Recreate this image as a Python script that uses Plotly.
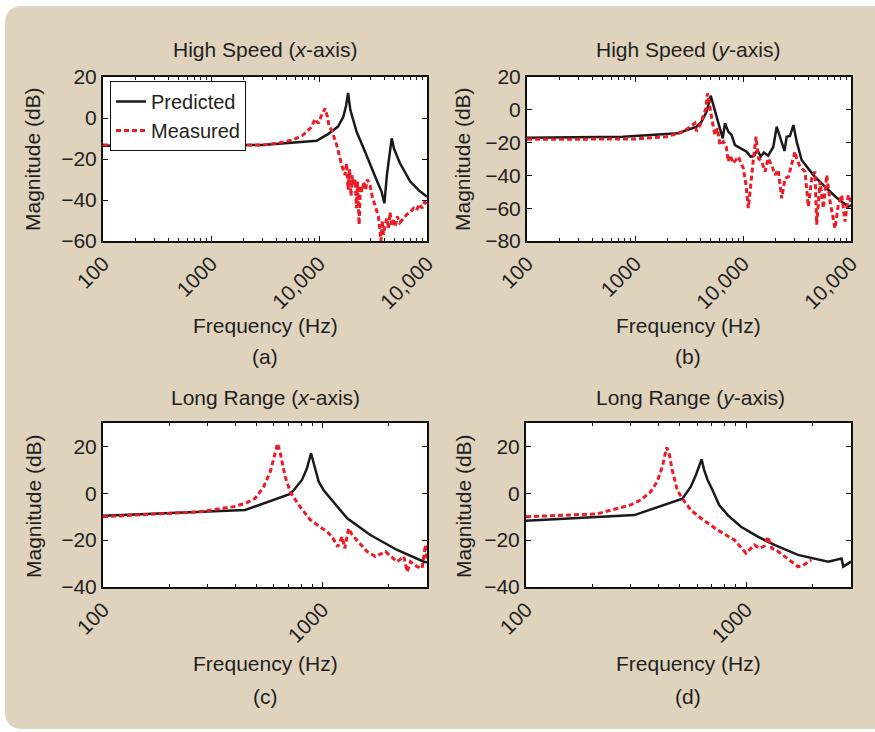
import plotly.graph_objects as go

# ---------------- data ----------------
# (a) High Speed, x-axis
freq_a_pred = [100, 1000, 3000, 9500, 12000, 15000, 16800, 17800, 18600, 19500, 20800, 22300, 26000,
               29700, 34000, 38000, 40300, 42500, 45000, 47100, 49500, 56200, 70000, 85000, 100000]
db_a_pred = [-13.5, -13.5, -13.2, -11.1, -8.0, -4.2, 0.6, 6.0, 12.2, 4.0, -1.0, -6.7, -15.0,
             -22.9, -30.0, -36.0, -41.6, -28.0, -17.0, -9.9, -15.0, -22.1, -31.0, -35.5, -38.4]
freq_a_meas = [100, 1000, 3000, 4090, 5750, 7100, 8500, 9180, 9860, 10600, 11370, 12000, 12400, 13100,
               14600, 16200, 17400, 18000, 18600, 19200, 19800, 20400, 21000, 21600, 22200, 22800,
               23500, 24200, 25000, 26000, 27000, 28000, 29700, 31000, 33000, 35500, 36700, 37500,
               38500, 39500, 41000, 42500, 44000, 45500, 47000, 49000, 51000, 53000, 56000, 60000,
               65000, 70000, 75000, 80000, 85000, 90000, 95000, 100000]
db_a_meas = [-13.2, -13.4, -13.2, -12.3, -10.7, -8.3, -4.5, -0.5, -2.6, 1.5, 4.7, 0.5, -4.2, -5.9,
             -13.2, -22.9, -27.8, -22.0, -35.0, -25.0, -38.0, -28.0, -33.0, -30.0, -44.0, -31.0,
             -52.0, -33.0, -36.0, -31.0, -35.0, -30.0, -33.0, -38.0, -43.0, -48.0, -55.0, -60.0,
             -50.0, -57.0, -52.0, -49.0, -54.0, -46.0, -52.0, -50.0, -53.0, -48.0, -51.0, -49.0,
             -47.0, -46.0, -44.0, -45.0, -42.0, -44.0, -41.0, -42.0]

# (b) High Speed, y-axis
freq_b_pred = [100, 774, 2500, 3720, 4140, 4610, 5020, 5500, 6490, 6810, 7310, 7850, 8430, 10800,
               11800, 12600, 13600, 14600, 15600, 17100, 19100, 20500, 22000, 24200, 25400, 27200,
               29300, 31400, 34900, 44800, 59500, 73700, 94400, 100000]
db_b_pred = [-17.0, -16.4, -14.3, -10.3, -7.2, -1.1, 8.6, -1.1, -17.4, -8.2, -13.3, -15.4, -21.5, -25.5,
             -28.6, -28.2, -24.5, -28.6, -26.0, -28.0, -22.5, -10.3, -16.4, -25.1, -16.4, -16.0,
             -9.3, -19.4, -30.6, -39.8, -47.9, -53.6, -59.1, -58.0]
freq_b_meas = [100, 1000, 1950, 2800, 3590, 3700, 4000, 4540, 4680, 4850, 5130, 5500, 5800, 6120,
               6580, 7000, 7310, 7590, 8130, 9060, 10070, 10670, 11200, 12000, 12500, 13200, 13900,
               14900, 16000, 17100, 18400, 19800, 21200, 22800, 24500, 26300, 28200, 30300, 31400,
               33700, 37500, 40300, 43300, 46400, 48100, 51700, 55500, 59600, 64000, 71100, 76300,
               82000, 88000, 94400, 100000]
db_b_meas = [-18.0, -17.8, -16.4, -13.4, -8.2, -13.0, -9.3, 0.9, 10.0, 5.0, -5.2, -15.4, -11.3, -21.5,
             -19.4, -22.5, -31.6, -27.6, -32.6, -28.6, -35.7, -45.9, -60.0, -37.7, -29.6, -16.4, -29.6,
             -31.6, -37.7, -29.6, -33.7, -39.8, -36.7, -54.0, -41.8, -40.8, -33.7, -25.5, -29.6,
             -34.7, -37.7, -59.0, -41.8, -37.7, -70.0, -43.8, -60.0, -39.8, -56.0, -72.3, -58.0,
             -52.0, -68.2, -52.0, -56.0]

# (c) Long Range, x-axis
freq_c_pred = [100, 445, 714, 740, 807, 851, 888, 929, 962, 1014, 1127, 1298, 1656, 2192, 2904, 3000]
db_c_pred = [-9.6, -7.1, -0.3, 1.3, 5.7, 10.7, 17.1, 10.0, 5.0, 1.3, -3.7, -10.7, -17.8, -24.2, -29.2, -29.5]
freq_c_meas = [100, 277, 394, 445, 494, 540, 579, 610, 625, 643, 677, 714, 780, 882, 1050, 1107,
               1175, 1230, 1265, 1318, 1367, 1600, 1746, 1940, 2192, 2350, 2438, 2523, 2704, 2850,
               2950, 3000]
db_c_meas = [-10.0, -7.9, -5.7, -4.3, -2.2, 2.8, 9.2, 17.8, 21.3, 17.1, 7.1, 0.6, -5.0, -11.4, -16.4,
             -18.5, -22.8, -18.5, -23.5, -15.0, -17.8, -24.9, -27.0, -24.9, -29.2, -27.0, -33.5,
             -29.2, -31.3, -32.0, -22.0, -28.5]

# (d) Long Range, y-axis
freq_d_pred = [100, 311, 514, 561, 592, 628, 645, 669, 705, 755, 826, 949, 1130, 1346, 1722, 2362,
               2717, 2767, 2914, 3000]
db_d_pred = [-11.7, -9.3, -2.3, 2.8, 7.8, 14.5, 10.0, 5.7, 1.3, -5.0, -9.3, -14.3, -18.5, -22.0,
             -26.3, -29.2, -27.8, -31.3, -29.9, -29.2]
freq_d_meas = [100, 210, 298, 332, 368, 395, 416, 436, 447, 462, 487, 514, 561, 624, 743, 885, 1000,
               1091, 1150, 1213, 1257, 1310, 1371, 1497, 1722, 1800, 1981]
db_d_meas = [-10.0, -8.8, -5.0, -2.9, 0.6, 5.0, 11.2, 19.6, 17.1, 10.0, 1.3, -2.3, -7.1, -10.7, -15.7,
             -19.9, -25.6, -22.0, -23.5, -22.5, -18.5, -23.5, -24.2, -27.0, -31.3, -31.0, -28.5]

panel_titles = ["High Speed (<i>x</i>-axis)", "High Speed (<i>y</i>-axis)",
                "Long Range (<i>x</i>-axis)", "Long Range (<i>y</i>-axis)"]
panel_letters = ["(a)", "(b)", "(c)", "(d)"]
x_tickvals_hs = [100, 1000, 10000, 100000]
x_ticktext_hs = ["100", "1000", "10,000", "10,000"]
x_tickvals_lr = [100, 1000]
x_ticktext_lr = ["100", "1000"]
y_ticks_a = [-60, -40, -20, 0, 20]
y_ticks_b = [-80, -60, -40, -20, 0, 20]
y_ticks_cd = [-40, -20, 0, 20]

# ---------------- layout helpers ----------------
W, H = 875, 732
def px(x):
    return x / W
def py(y):
    return 1 - y / H

FONT = "Liberation Sans, Arial, Helvetica, sans-serif"
TXT = "#231f20"
FS = 21
RED = "#ec1c26"
BLK = "#1a1a1a"
BEIGE = "#e0d3be"

boxes = [  # left, right, top, bottom in pixels
    (103, 427, 77, 241),
    (527, 851, 77, 241),
    (103, 427, 423, 587),
    (526, 851, 423, 587),
]

fig = go.Figure()

series = [
    (freq_a_pred, db_a_pred, freq_a_meas, db_a_meas),
    (freq_b_pred, db_b_pred, freq_b_meas, db_b_meas),
    (freq_c_pred, db_c_pred, freq_c_meas, db_c_meas),
    (freq_d_pred, db_d_pred, freq_d_meas, db_d_meas),
]
for i, (fp, dp, fm, dm) in enumerate(series):
    xa = "x" if i == 0 else f"x{i+1}"
    ya = "y" if i == 0 else f"y{i+1}"
    fig.add_trace(go.Scatter(x=fp, y=dp, mode="lines", name="Predicted",
                             line=dict(color=BLK, width=2.5), xaxis=xa, yaxis=ya,
                             showlegend=(i == 0)))
    fig.add_trace(go.Scatter(x=fm, y=dm, mode="lines", name="Measured",
                             line=dict(color=RED, width=3, dash="5px,3px"), xaxis=xa, yaxis=ya,
                             showlegend=(i == 0)))

xranges = [[2, 5], [2, 5], [2, 3.4771], [2, 3.4771]]
yranges = [[-60, 20], [-80, 20], [-40, 30], [-40, 30]]
yticks = [y_ticks_a, y_ticks_b, y_ticks_cd, y_ticks_cd]
xtv = [x_tickvals_hs, x_tickvals_hs, x_tickvals_lr, x_tickvals_lr]
xtt = [x_ticktext_hs, x_ticktext_hs, x_ticktext_lr, x_ticktext_lr]

common = dict(showline=True, linecolor="#111111", linewidth=2, mirror="ticks",
              ticks="inside", ticklen=5, tickwidth=1, tickcolor="#111111",
              showgrid=False, zeroline=False, automargin=False,
              tickfont=dict(family=FONT, size=FS, color=TXT))

layout = {}
for i, (l, r, t, b) in enumerate(boxes):
    sx = "" if i == 0 else str(i + 1)
    layout["xaxis" + sx] = dict(common, domain=[px(l), px(r)], anchor="y" + sx, type="log",
                                range=xranges[i], tickmode="array", tickvals=xtv[i],
                                ticktext=xtt[i], tickangle=-45,
                                minor=dict(ticks="inside", ticklen=3, tickcolor="#111111",
                                           dtick="D1", showgrid=False))
    layout["yaxis" + sx] = dict(common, domain=[py(b), py(t)], anchor="x" + sx,
                                range=yranges[i], tickmode="array", tickvals=yticks[i])

fig.update_layout(**layout)

# text annotations
ann = []
title_pos = [(265, 49), (688, 49), (265, 397), (690, 397)]
xlab_pos = [(265, 325), (688, 325), (265, 663), (688, 663)]
ylab_pos = [(33, 159), (463, 159), (33, 506), (463, 506)]
let_pos = [(265, 357), (688, 357), (265, 696), (688, 696)]
for i in range(4):
    ann.append(dict(text=panel_titles[i], x=px(title_pos[i][0]), y=py(title_pos[i][1]),
                    xref="paper", yref="paper", showarrow=False, xanchor="center", yanchor="middle",
                    font=dict(family=FONT, size=FS, color=TXT)))
    ann.append(dict(text="Frequency (Hz)", x=px(xlab_pos[i][0]), y=py(xlab_pos[i][1]),
                    xref="paper", yref="paper", showarrow=False, xanchor="center", yanchor="middle",
                    font=dict(family=FONT, size=FS, color=TXT)))
    ann.append(dict(text="Magnitude (dB)", x=px(ylab_pos[i][0]), y=py(ylab_pos[i][1]),
                    xref="paper", yref="paper", showarrow=False, xanchor="center", yanchor="middle",
                    textangle=-90, font=dict(family=FONT, size=FS, color=TXT)))
    ann.append(dict(text=panel_letters[i], x=px(let_pos[i][0]), y=py(let_pos[i][1]),
                    xref="paper", yref="paper", showarrow=False, xanchor="center", yanchor="middle",
                    font=dict(family=FONT, size=FS, color=TXT)))

# beige rounded background + white plot areas
x0, y0, x1, y1, rr = 5, 6, 895, 729, 18
path = (f"M {px(x0+rr)},{py(y0)} L {px(x1)},{py(y0)} L {px(x1)},{py(y1)} L {px(x0+rr)},{py(y1)} "
        f"Q {px(x0)},{py(y1)} {px(x0)},{py(y1-rr)} L {px(x0)},{py(y0+rr)} "
        f"Q {px(x0)},{py(y0)} {px(x0+rr)},{py(y0)} Z")
shapes = [dict(type="path", path=path, xref="paper", yref="paper", fillcolor=BEIGE,
               line=dict(width=0), layer="below")]
for i in range(4):
    sx = "" if i == 0 else str(i + 1)
    shapes.append(dict(type="rect", xref=f"x{sx} domain", yref=f"y{sx} domain",
                       x0=0, x1=1, y0=0, y1=1, fillcolor="white", line=dict(width=0),
                       layer="below"))

fig.update_layout(
    template="none",
    width=W, height=H, margin=dict(l=0, r=0, t=0, b=0, autoexpand=False),
    paper_bgcolor="white", plot_bgcolor="white",
    annotations=ann, shapes=shapes,
    legend=dict(x=px(110), y=py(81), xanchor="left", yanchor="top", bgcolor="white",
                bordercolor="#111111", borderwidth=1, font=dict(family=FONT, size=20, color=TXT),
                tracegroupgap=0, itemwidth=30),
)

fig.write_html("out.html")
